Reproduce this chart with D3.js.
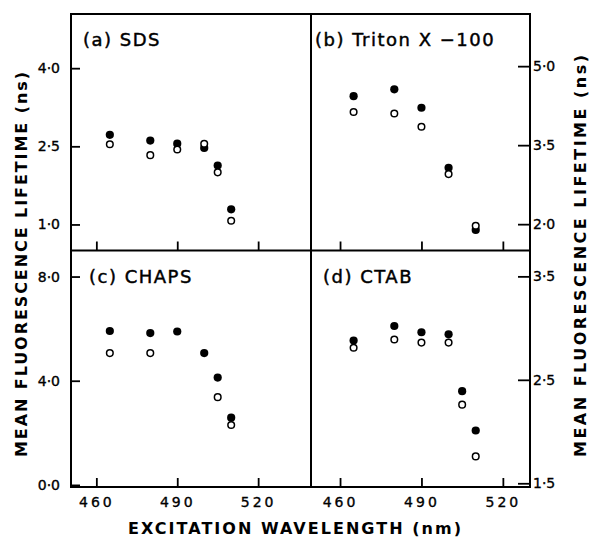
<!DOCTYPE html>
<html><head><meta charset="utf-8">
<script src="https://cdn.jsdelivr.net/npm/d3@7"></script>
<style>
body{margin:0;background:#fff}
svg{display:block}
text{font-family:"DejaVu Sans","Liberation Sans",sans-serif;fill:#000}
</style>
</head><body>
<script>
// ---- data ----
const wavelengths = [465, 480, 490, 500, 505, 510];
const tritonWavelengths = [465, 480, 490, 500, 510];
const xTicks = [460, 490, 520];

const sdsFilled = [2.72, 2.61, 2.55, 2.47, 2.13, 1.29];
const sdsOpen   = [2.54, 2.33, 2.44, 2.55, 2.00, 1.07];
const sdsTicks  = [1.0, 2.5, 4.0];

const tritonFilled = [4.43, 4.56, 4.21, 3.07, 1.89];
const tritonOpen   = [4.13, 4.10, 3.85, 2.95, 1.97];
const tritonTicks  = [2.0, 3.5, 5.0];

const chapsFilled = [5.91, 5.83, 5.89, 5.06, 4.12, 2.58];
const chapsOpen   = [5.06, 5.06, null, null, 3.37, 2.30];
const chapsTicks  = [0.0, 4.0, 8.0];

const ctabFilled = [2.88, 3.02, 2.96, 2.94, 2.39, 2.01];
const ctabOpen   = [2.81, 2.89, 2.86, 2.86, 2.26, 1.76];
const ctabTicks  = [1.5, 2.5, 3.5];

const panelLabels = ["(a) SDS", "(b) Triton  X −100", "(c) CHAPS", "(d) CTAB"];
const yTitle = "MEAN FLUORESCENCE LIFETIME (ns)";
const xTitle = "EXCITATION WAVELENGTH (nm)";

// ---- layout ----
const W = 592, H = 537;
const L = 71, R = 530, T = 14, B = 487, MX = 311, MY = 250.5;

const svg = d3.select("body").append("svg").attr("width", W).attr("height", H);

const panels = [
  {label: panelLabels[0], wl: wavelengths, filled: sdsFilled, open: sdsOpen, ticks: sdsTicks,
   x0: L, x1: MX, y0: T, y1: MY, xd: [450.6, 539.6], yd: [0.5, 5.04], side: "left", bottom: false, lx: 83},
  {label: panelLabels[1], wl: tritonWavelengths, filled: tritonFilled, open: tritonOpen, ticks: tritonTicks,
   x0: MX, x1: R, y0: T, y1: MY, xd: [449.3, 530], yd: [1.5, 5.99], side: "right", bottom: false, lx: 315},
  {label: panelLabels[2], wl: wavelengths, filled: chapsFilled, open: chapsOpen, ticks: chapsTicks,
   x0: L, x1: MX, y0: MY, y1: B, xd: [450.6, 539.6], yd: [-0.08, 9.0], side: "left", bottom: true, lx: 89},
  {label: panelLabels[3], wl: wavelengths, filled: ctabFilled, open: ctabOpen, ticks: ctabTicks,
   x0: MX, x1: R, y0: MY, y1: B, xd: [449.3, 530], yd: [1.464, 3.75], side: "right", bottom: true, lx: 323}
];

const fmt = d => d.toFixed(1).replace(".", "·");

panels.forEach(p => {
  const x = d3.scaleLinear().domain(p.xd).range([p.x0, p.x1]);
  const y = d3.scaleLinear().domain(p.yd).range([p.y1, p.y0]);

  // x axis ticks (inward)
  const xa = d3.axisBottom(x).tickValues(xTicks).tickSize(-9).tickPadding(9)
    .tickFormat(p.bottom ? d3.format("d") : "");
  const gx = svg.append("g").attr("transform", `translate(0,${p.y1})`).call(xa);
  gx.select(".domain").remove();
  gx.selectAll("line").attr("stroke", "#000").attr("stroke-width", 1.8);
  gx.selectAll("text").attr("font-size", 14).attr("letter-spacing", 3)
    .attr("stroke", "#000").attr("stroke-width", 0.35)
    .attr("dy", "0.3em").attr("y", 16);

  // y axis ticks (inward)
  let ya;
  if (p.side === "left") {
    ya = d3.axisLeft(y).tickValues(p.ticks).tickSize(-9).tickPadding(11).tickFormat(fmt);
  } else {
    ya = d3.axisRight(y).tickValues(p.ticks).tickSize(-12).tickPadding(3).tickFormat(fmt);
  }
  const gy = svg.append("g").attr("transform", `translate(${p.side === "left" ? p.x0 : p.x1},0)`).call(ya);
  gy.select(".domain").remove();
  gy.selectAll("line").attr("stroke", "#000").attr("stroke-width", 1.8);
  gy.selectAll("text").attr("font-size", 14).attr("stroke", "#000").attr("stroke-width", 0.35);

  // points
  const g = svg.append("g");
  g.selectAll("circle.f").data(p.wl.map((w, i) => [w, p.filled[i]]).filter(d => d[1] != null))
    .join("circle").attr("class", "f")
    .attr("cx", d => x(d[0])).attr("cy", d => y(d[1])).attr("r", 4.1).attr("fill", "#000");
  g.selectAll("circle.o").data(p.wl.map((w, i) => [w, p.open[i]]).filter(d => d[1] != null))
    .join("circle").attr("class", "o")
    .attr("cx", d => x(d[0])).attr("cy", d => y(d[1])).attr("r", 3.3)
    .attr("fill", "#fff").attr("stroke", "#000").attr("stroke-width", 1.5);

  // panel label
  svg.append("text").attr("x", p.lx).attr("y", p.y0 + 32)
    .attr("font-size", 18).attr("letter-spacing", 1.5)
    .attr("stroke", "#000").attr("stroke-width", 0.45).text(p.label);
});

// frame
svg.append("rect").attr("x", L).attr("y", T).attr("width", R - L).attr("height", B - T)
  .attr("fill", "none").attr("stroke", "#000").attr("stroke-width", 2);
svg.append("line").attr("x1", MX).attr("x2", MX).attr("y1", T).attr("y2", B)
  .attr("stroke", "#000").attr("stroke-width", 2);
svg.append("line").attr("x1", L).attr("x2", R).attr("y1", MY).attr("y2", MY)
  .attr("stroke", "#000").attr("stroke-width", 2);

// axis titles
svg.append("text").attr("x", 128).attr("y", 534).attr("font-size", 16).attr("font-weight", "bold")
  .attr("textLength", 333).attr("lengthAdjust", "spacing").text(xTitle);

svg.append("text").attr("transform", "translate(27,457) rotate(-90)")
  .attr("font-size", 16).attr("font-weight", "bold")
  .attr("textLength", 385).attr("lengthAdjust", "spacing").text(yTitle);

svg.append("text").attr("transform", "translate(586,457) rotate(-90)")
  .attr("font-size", 16).attr("font-weight", "bold")
  .attr("textLength", 402).attr("lengthAdjust", "spacing").text(yTitle);
</script>
</body></html>
